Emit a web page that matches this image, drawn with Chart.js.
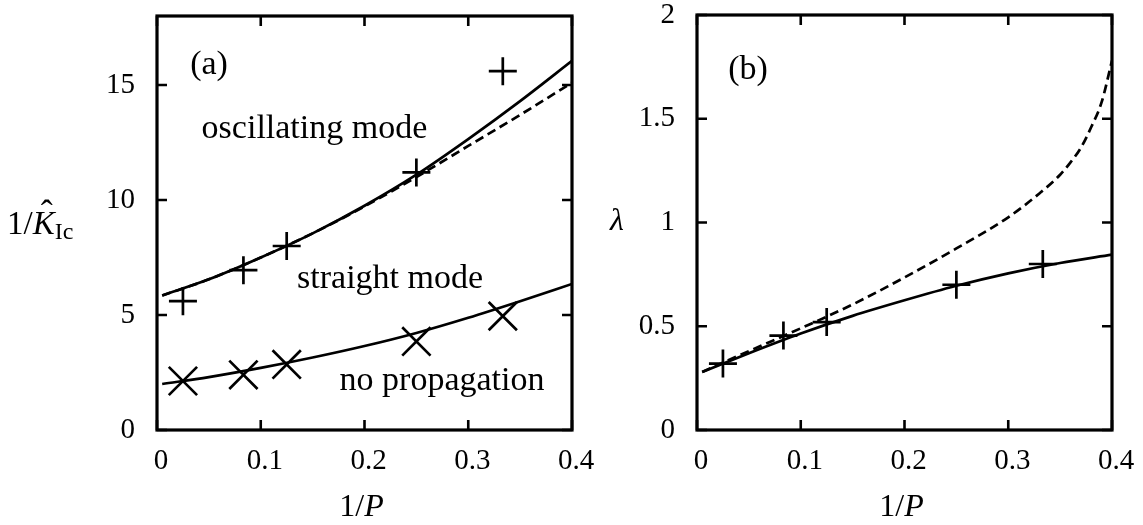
<!DOCTYPE html>
<html lang="en">
<head>
<meta charset="UTF-8">
<title>1/K and lambda vs 1/P</title>
<script src="https://cdn.jsdelivr.net/npm/chart.js"></script>
<style>
    html, body { margin: 0; padding: 0; background: #ffffff; }
    body { width: 1143px; height: 525px; position: relative; overflow: hidden; }
    canvas { position: absolute; top: 0; }
    #chartA { left: 0; }
    #chartB { left: 580px; }
</style>
</head>
<body>
<canvas id="chartA" width="610" height="525"></canvas>
<canvas id="chartB" width="563" height="525"></canvas>
<script>
// ticks
const xTickValues = [0, 0.1, 0.2, 0.3, 0.4];
const xTickLabels = ['0', '0.1', '0.2', '0.3', '0.4'];
const yTickValuesA = [0, 5, 10, 15];
const yTickLabelsA = ['0', '5', '10', '15'];
const yTickValuesB = [0, 0.5, 1, 1.5, 2];
const yTickLabelsB = ['0', '0.5', '1', '1.5', '2'];

// theory curves
const curveX = [0.005, 0.05, 0.1, 0.15, 0.2, 0.25, 0.3, 0.35, 0.4];
const oscSolidA = [5.85, 6.55, 7.5, 8.55, 9.75, 11.1, 12.65, 14.3, 16.05];
const oscDashedA = [5.85, 6.55, 7.5, 8.55, 9.72, 11.0, 12.35, 13.7, 15.1];
const noPropA = [2.0, 2.3, 2.7, 3.15, 3.65, 4.22, 4.88, 5.6, 6.35];
const lambdaSolidB = [0.28, 0.37, 0.465, 0.55, 0.625, 0.695, 0.755, 0.805, 0.845];
const lambdaDashedX = [0.005, 0.05, 0.1, 0.15, 0.2, 0.25, 0.3, 0.33, 0.35, 0.36, 0.37, 0.38, 0.39, 0.4];
const lambdaDashedB = [0.28, 0.38, 0.49, 0.605, 0.735, 0.875, 1.025, 1.14, 1.23, 1.29, 1.36, 1.46, 1.58, 1.78];

// simulation points
const simX = [0.025, 0.0833, 0.125, 0.25, 0.3333];
const simOscA = [5.6, 6.95, 8.0, 11.2, 15.6];
const simNoPropA = [2.13, 2.4, 2.85, 3.85, 4.95];
const simLambdaB = [0.32, 0.455, 0.52, 0.70, 0.80];

const SERIF = '"Liberation Serif", "DejaVu Serif", serif';

function pts(xs, ys) {
    return xs.map((x, i) => ({x: x, y: ys[i]}));
}

function curve(xs, ys, dashed) {
    return {
        data: pts(xs, ys),
        showLine: true,
        borderColor: '#000',
        borderWidth: 2.7,
        borderDash: dashed ? [9, 5] : [],
        pointRadius: 0,
        cubicInterpolationMode: 'monotone',
        fill: false
    };
}

function markers(xs, ys, style, r) {
    return {
        data: pts(xs, ys),
        showLine: false,
        pointStyle: style,
        pointRadius: r,
        pointBorderWidth: 2.7,
        borderColor: '#000',
        backgroundColor: '#000'
    };
}

// draws mixed-font text, parts = [[text, font, dy], ...]
function drawParts(ctx, parts, x, y, align) {
    let w = 0;
    parts.forEach(p => { ctx.font = p[1]; w += ctx.measureText(p[0]).width; });
    let cx = align === 'center' ? x - w / 2 : x;
    parts.forEach(p => {
        ctx.font = p[1];
        ctx.fillText(p[0], cx, y + (p[2] || 0));
        cx += ctx.measureText(p[0]).width;
    });
}

const framePlugin = {
    id: 'frame',
    afterDatasetsDraw(chart, args, opts) {
        const ctx = chart.ctx;
        const a = chart.chartArea;
        const xs = chart.scales.x, ys = chart.scales.y;
        ctx.save();
        ctx.strokeStyle = '#000';
        ctx.lineWidth = 3.2;
        ctx.strokeRect(a.left, a.top, a.right - a.left, a.bottom - a.top);
        ctx.lineWidth = 2.6;
        ctx.beginPath();
        xTickValues.forEach(v => {
            const px = xs.getPixelForValue(v);
            ctx.moveTo(px, a.bottom); ctx.lineTo(px, a.bottom - 10);
            ctx.moveTo(px, a.top); ctx.lineTo(px, a.top + 10);
        });
        opts.yTicks.forEach(v => {
            const py = ys.getPixelForValue(v);
            ctx.moveTo(a.left, py); ctx.lineTo(a.left + 10, py);
            ctx.moveTo(a.right, py); ctx.lineTo(a.right - 10, py);
        });
        ctx.stroke();

        ctx.fillStyle = '#000';
        ctx.textBaseline = 'alphabetic';
        ctx.textAlign = 'left';
        (opts.notes || []).forEach(n => {
            ctx.font = '34px ' + SERIF;
            ctx.fillText(n.text, xs.getPixelForValue(n.x), ys.getPixelForValue(n.y));
        });

        // x title 1/P
        const mid = (a.left + a.right) / 2 - 3;
        drawParts(ctx, [['1/', '32px ' + SERIF], ['P', 'italic 32px ' + SERIF]], mid, 516, 'center');

        // y title
        if (opts.yTitle === 'K') {
            const f = '33px ' + SERIF;
            ctx.font = f;
            const w1 = ctx.measureText('1/').width;
            ctx.font = 'italic ' + f;
            const wk = ctx.measureText('K').width;
            drawParts(ctx, [['1/', f], ['K', 'italic ' + f], ['Ic', '24px ' + SERIF, 5]], 7, 234, 'left');
            ctx.font = '36px ' + SERIF;
            ctx.textAlign = 'center';
            ctx.fillText('\u02C6', 7 + w1 + wk / 2 + 3, 234 - 9);
        } else {
            drawParts(ctx, [['\u03BB', 'italic 32px ' + SERIF]], 30, 230, 'left');
        }
        ctx.restore();
    }
};

function makeChart(id, datasets, yMax, yTicks, yLabels, yWidth, pad, notes, yTitle) {
    const tickFont = {family: SERIF, size: 29};
    return new Chart(document.getElementById(id), {
        type: 'scatter',
        data: {datasets: datasets},
        options: {
            responsive: false,
            animation: false,
            layout: {padding: pad, autoPadding: false},
            plugins: {
                legend: {display: false},
                tooltip: {enabled: false},
                frame: {yTicks: yTicks, notes: notes, yTitle: yTitle}
            },
            scales: {
                x: {
                    type: 'linear', min: 0, max: 0.4,
                    grid: {display: false}, border: {display: false},
                    afterBuildTicks: s => { s.ticks = xTickValues.map(v => ({value: v})); },
                    ticks: {
                        color: '#000', font: tickFont, padding: 6, maxRotation: 0, labelOffset: 4,
                        callback: (v, i) => xTickLabels[i]
                    },
                    afterFit: s => {
                        s.height = 95;
                        s.paddingLeft = 0; s.paddingRight = 0;
                    }
                },
                y: {
                    type: 'linear', min: 0, max: yMax,
                    grid: {display: false}, border: {display: false},
                    afterBuildTicks: s => { s.ticks = yTicks.map(v => ({value: v})); },
                    ticks: {
                        color: '#000', font: tickFont, padding: 14,
                        callback: (v, i) => yLabels[i]
                    },
                    afterFit: s => {
                        s.width = yWidth;
                        s.paddingTop = 0; s.paddingBottom = 0;
                    }
                }
            }
        },
        plugins: [framePlugin]
    });
}

makeChart('chartA', [
    markers(simX, simOscA, 'cross', 14),
    markers(simX, simNoPropA, 'crossRot', 20),
    curve(curveX, oscSolidA, false),
    curve(curveX, oscDashedA, true),
    curve(curveX, noPropA, false)
], 18, yTickValuesA, yTickLabelsA, 157, {top: 16, right: 38, left: 0, bottom: 0}, [
    {text: '(a)', x: 0.032, y: 15.5},
    {text: 'oscillating mode', x: 0.043, y: 12.7},
    {text: 'straight mode', x: 0.135, y: 6.17},
    {text: 'no propagation', x: 0.176, y: 1.74}
], 'K');

makeChart('chartB', [
    markers(simX, simLambdaB, 'cross', 14),
    curve(curveX, lambdaSolidB, false),
    curve(lambdaDashedX, lambdaDashedB, true)
], 2, yTickValuesB, yTickLabelsB, 117, {top: 15, right: 31, left: 0, bottom: 0}, [
    {text: '(b)', x: 0.03, y: 1.69}
], 'L');
</script>
</body>
</html>
